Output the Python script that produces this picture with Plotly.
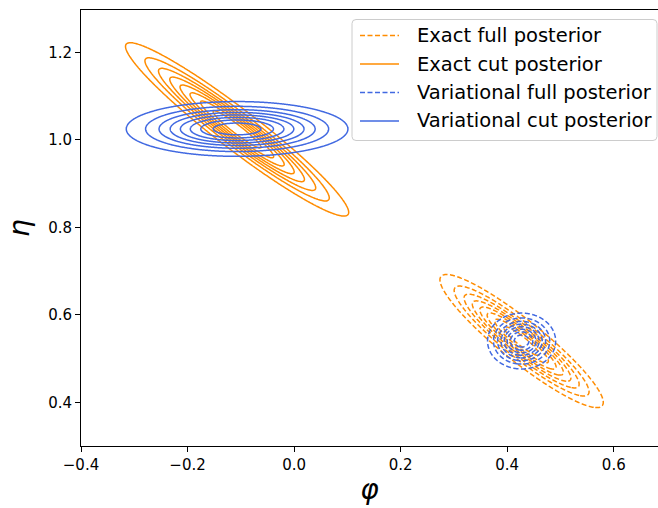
import numpy as np
import plotly.graph_objects as go

# Gaussian summaries of each posterior: (phi, eta) means, standard deviations, correlation
series_names = ["Exact full posterior", "Exact cut posterior",
                "Variational full posterior", "Variational cut posterior"]
mean_phi = [0.427, -0.107, 0.427, -0.107]
mean_eta = [0.540, 1.024, 0.540, 1.025]
sd_phi = [0.0734, 0.1003, 0.0306, 0.0996]
sd_eta = [0.0729, 0.0949, 0.0306, 0.0300]
corr = [-0.92, -0.957, 0.0, 0.0]
colors = ["darkorange", "darkorange", "royalblue", "royalblue"]
dashes = ["5px,2.5px", "solid", "5px,2.5px", "solid"]

# contour levels as fractions of the peak density
level_step = 1 / 8.85
n_levels = 8

x_ticks = [-0.4, -0.2, 0.0, 0.2, 0.4, 0.6]
y_ticks = [0.4, 0.6, 0.8, 1.0, 1.2]

FONT = "DejaVu Sans"
W, H = 658, 508
ML, MR, MT, MB = 81, 0, 10, 62

fig = go.Figure()

for i in range(len(series_names)):
    gx = np.linspace(mean_phi[i] - 3.5 * sd_phi[i], mean_phi[i] + 3.5 * sd_phi[i], 360)
    gy = np.linspace(mean_eta[i] - 3.5 * sd_eta[i], mean_eta[i] + 3.5 * sd_eta[i], 360)
    X, Y = np.meshgrid(gx, gy)
    u = (X - mean_phi[i]) / sd_phi[i]
    v = (Y - mean_eta[i]) / sd_eta[i]
    r = corr[i]
    q = (u * u - 2 * r * u * v + v * v) / (1 - r * r)
    Z = np.exp(-0.5 * q)
    fig.add_trace(go.Contour(
        x=gx, y=gy, z=Z,
        contours=dict(coloring="none", start=level_step,
                      end=n_levels * level_step + 1e-9, size=level_step),
        line=dict(color=colors[i], width=1.5, dash=dashes[i]),
        showscale=False, showlegend=False, hoverinfo="skip",
    ))


# legend drawn in pixel units relative to the page, converted to paper coords
def px(xp):
    return (xp - ML) / (W - ML - MR)


def py(yp):
    return (H - MB - yp) / (H - MT - MB)


box_l, box_r, box_t, box_b, rad = 352, 657, 19.5, 140.5, 4
path = (
    f"M {px(box_l + rad)},{py(box_t)} L {px(box_r - rad)},{py(box_t)} "
    f"Q {px(box_r)},{py(box_t)} {px(box_r)},{py(box_t + rad)} "
    f"L {px(box_r)},{py(box_b - rad)} "
    f"Q {px(box_r)},{py(box_b)} {px(box_r - rad)},{py(box_b)} "
    f"L {px(box_l + rad)},{py(box_b)} "
    f"Q {px(box_l)},{py(box_b)} {px(box_l)},{py(box_b - rad)} "
    f"L {px(box_l)},{py(box_t + rad)} "
    f"Q {px(box_l)},{py(box_t)} {px(box_l + rad)},{py(box_t)} Z"
)
fig.add_shape(type="path", path=path, xref="paper", yref="paper",
              line=dict(color="#cccccc", width=1),
              fillcolor="rgba(255,255,255,0.8)", layer="above")

row_y = [35.5, 64, 92.5, 121]
for i, name in enumerate(series_names):
    fig.add_shape(type="line", xref="paper", yref="paper",
                  x0=px(360), x1=px(399), y0=py(row_y[i]), y1=py(row_y[i]),
                  line=dict(color=colors[i], width=1.5, dash=dashes[i]),
                  layer="above")
    fig.add_annotation(text=name, xref="paper", yref="paper",
                       x=px(415), y=py(row_y[i]), xanchor="left", yanchor="middle",
                       showarrow=False,
                       font=dict(family=FONT, size=19.5, color="black"))

axis_common = dict(
    showgrid=False, zeroline=False, showline=True, linecolor="black",
    linewidth=1, mirror=True, ticks="outside", ticklen=5, tickwidth=1,
    tickcolor="black", tickfont=dict(family=FONT, size=15, color="black"),
)

fig.update_layout(
    width=W, height=H,
    margin=dict(l=ML, r=MR, t=MT, b=MB),
    paper_bgcolor="white", plot_bgcolor="white",
    font=dict(family=FONT, color="black"),
    showlegend=False,
    xaxis=dict(range=[-0.4, 0.683], tickvals=x_ticks, tickformat=".1f",
               title=dict(text="<i>φ</i>", font=dict(family=FONT, size=28), standoff=6),
               **axis_common),
    yaxis=dict(range=[0.3, 1.297], tickvals=y_ticks, tickformat=".1f",
               title=dict(text="<i>η</i>", font=dict(family=FONT, size=28), standoff=10),
               **axis_common),
)

fig.write_html("out.html")
